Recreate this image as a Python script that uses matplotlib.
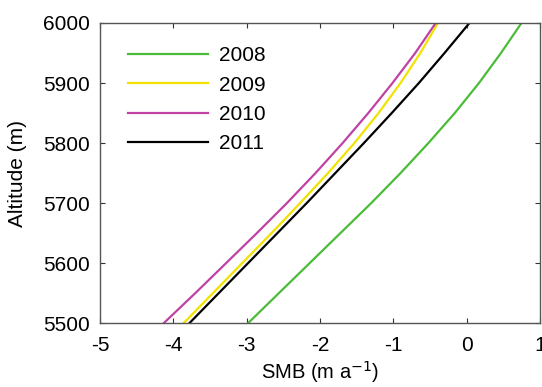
import matplotlib
matplotlib.use("Agg")
import matplotlib.pyplot as plt

# altitude levels (m) and SMB (m a^-1)
altitude = [5500, 5550, 5600, 5650, 5700, 5750, 5800, 5850, 5900, 5950, 6000]
smb_2008 = [-2.98, -2.56, -2.14, -1.72, -1.30, -0.90, -0.52, -0.16, 0.17, 0.47, 0.75]
smb_2009 = [-3.86, -3.46, -3.06, -2.66, -2.27, -1.89, -1.53, -1.20, -0.90, -0.63, -0.39]
smb_2010 = [-4.13, -3.70, -3.28, -2.86, -2.45, -2.06, -1.69, -1.34, -1.01, -0.70, -0.42]
smb_2011 = [-3.78, -3.38, -2.98, -2.58, -2.18, -1.79, -1.40, -1.02, -0.65, -0.30, 0.04]

years = ["2008", "2009", "2010", "2011"]
colors = ["#4cbb3a", "#f2e200", "#c042a4", "#000000"]

plt.rcParams["font.family"] = ["Liberation Sans", "DejaVu Sans"]
plt.rcParams["axes.unicode_minus"] = False

fig = plt.figure(figsize=(5.42, 3.87), dpi=100)
ax = fig.add_axes([0.1845, 0.165, 0.8115, 0.7756])

for smb, yr, c in zip([smb_2008, smb_2009, smb_2010, smb_2011], years, colors):
    ax.plot(smb, altitude, color=c, lw=1.6, label=yr)

ax.set_xlim(-5, 1)
ax.set_ylim(5500, 6000)
ax.set_xticks(range(-5, 2))
ax.set_yticks(range(5500, 6001, 100))
ax.tick_params(direction="in", top=True, right=True, length=3.5,
               labelsize=15, color="#333333")
ax.tick_params(axis="x", pad=9)
ax.tick_params(axis="y", pad=7)
for s in ax.spines.values():
    s.set_color("#555555")
    s.set_linewidth(1.0)

ax.set_xlabel("SMB (m a$^{-1}$)", fontsize=14.5, labelpad=3)
ax.set_ylabel("Altitude (m)", fontsize=15, labelpad=12)

ax.legend(loc="upper left", frameon=False, fontsize=15, handlelength=3.85,
          handletextpad=0.55, labelspacing=0.5, bbox_to_anchor=(0.02, 0.985))

fig.savefig("out.png", dpi=100)
